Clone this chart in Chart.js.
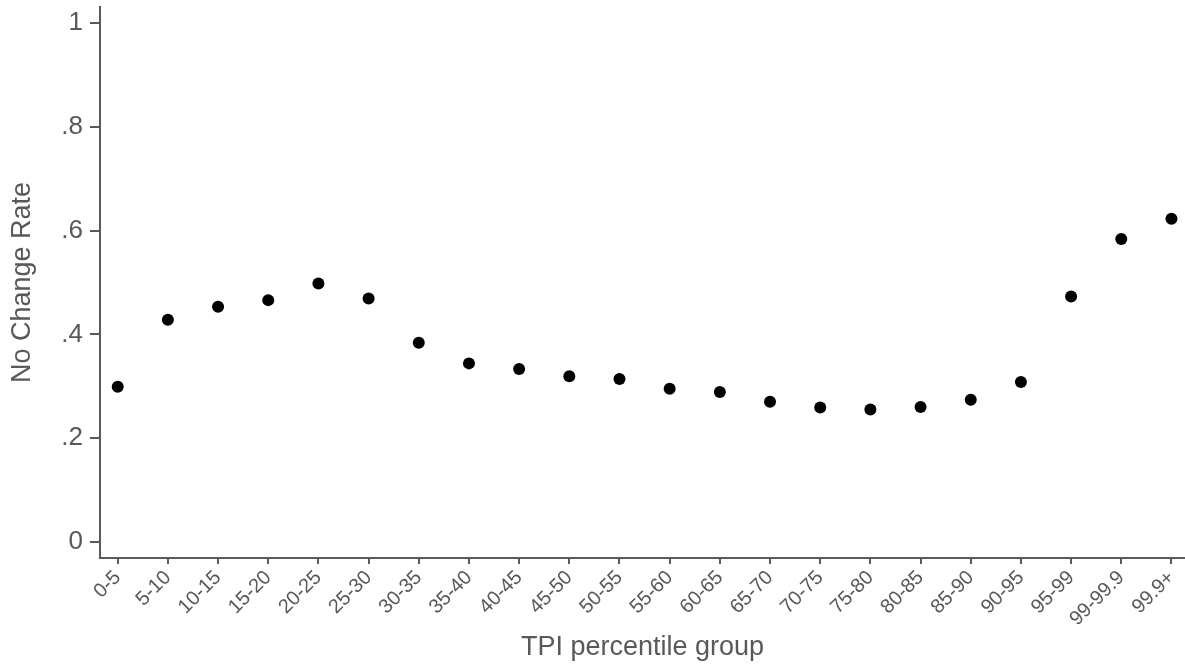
<!DOCTYPE html>
<html>
<head>
<meta charset="utf-8">
<script src="https://cdn.jsdelivr.net/npm/chart.js@4/dist/chart.umd.min.js"></script>
<style>
  html, body { margin: 0; padding: 0; background: #fff; }
  #wrap { width: 1185px; height: 668px; }
</style>
</head>
<body>
<div id="wrap"><canvas id="myChart" width="1185" height="668"></canvas></div>
<script>
const groups = ["0-5", "5-10", "10-15", "15-20", "20-25", "25-30", "30-35", "35-40",
  "40-45", "45-50", "50-55", "55-60", "60-65", "65-70", "70-75", "75-80",
  "80-85", "85-90", "90-95", "95-99", "99-99.9", "99.9+"];
const noChangeRate = [0.299, 0.428, 0.453, 0.466, 0.498, 0.469, 0.384, 0.344,
  0.333, 0.319, 0.314, 0.295, 0.289, 0.270, 0.259, 0.255,
  0.260, 0.274, 0.308, 0.473, 0.584, 0.623];
const yTicks = [0, 0.2, 0.4, 0.6, 0.8, 1];
const yTickLabels = ["0", ".2", ".4", ".6", ".8", "1"];

const axisColor = "#5a5a5a";
const textColor = "#595959";
const fontFamily = "'Liberation Sans', Arial, sans-serif";

const points = noChangeRate.map((v, i) => ({ x: i, y: v }));

new Chart(document.getElementById("myChart").getContext("2d"), {
  type: "scatter",
  data: {
    datasets: [
      {
        label: "No Change Rate",
        data: points,
        backgroundColor: "#000",
        borderWidth: 0,
        pointRadius: 6,
      },
    ],
  },
  options: {
    responsive: false,
    animation: false,
    layout: { padding: { top: 7, right: 0, left: 0, bottom: 0 }, autoPadding: false },
    plugins: { legend: { display: false }, tooltip: { enabled: false } },
    scales: {
      x: {
        type: "linear",
        min: -0.353,
        max: 21.27,
        afterBuildTicks: (scale) => {
          scale.ticks = groups.map((g, i) => ({ value: i }));
        },
        afterFit: (scale) => {
          scale.height = 110;
          scale.paddingLeft = 0;
          scale.paddingRight = 0;
        },
        grid: { drawOnChartArea: false, drawTicks: true, tickLength: 6, color: axisColor, lineWidth: 2 },
        border: { display: true, color: axisColor, width: 2 },
        ticks: {
          color: textColor,
          font: { family: fontFamily, size: 20 },
          minRotation: 45,
          maxRotation: 45,
          autoSkip: false,
          padding: 2,
          callback: (v) => groups[v],
        },
        title: {
          display: true,
          text: "TPI percentile group",
          color: textColor,
          font: { family: fontFamily, size: 27 },
          padding: { top: 0, bottom: 4 },
        },
      },
      y: {
        min: -0.0314,
        max: 1.0314,
        afterBuildTicks: (scale) => {
          scale.ticks = yTicks.map((v) => ({ value: v }));
        },
        afterFit: (scale) => {
          scale.width = 100;
          scale.paddingTop = 0;
          scale.paddingBottom = 0;
        },
        grid: { drawOnChartArea: false, drawTicks: true, tickLength: 10, color: axisColor, lineWidth: 2 },
        border: { display: true, color: axisColor, width: 2 },
        ticks: {
          color: textColor,
          font: { family: fontFamily, size: 26 },
          padding: 7,
          callback: (v) => {
            const i = yTicks.indexOf(v);
            return i >= 0 ? yTickLabels[i] : "";
          },
        },
        title: {
          display: true,
          text: "No Change Rate",
          color: textColor,
          font: { family: fontFamily, size: 27 },
          padding: { top: 6, bottom: 0 },
        },
      },
    },
  },
});
</script>
</body>
</html>
